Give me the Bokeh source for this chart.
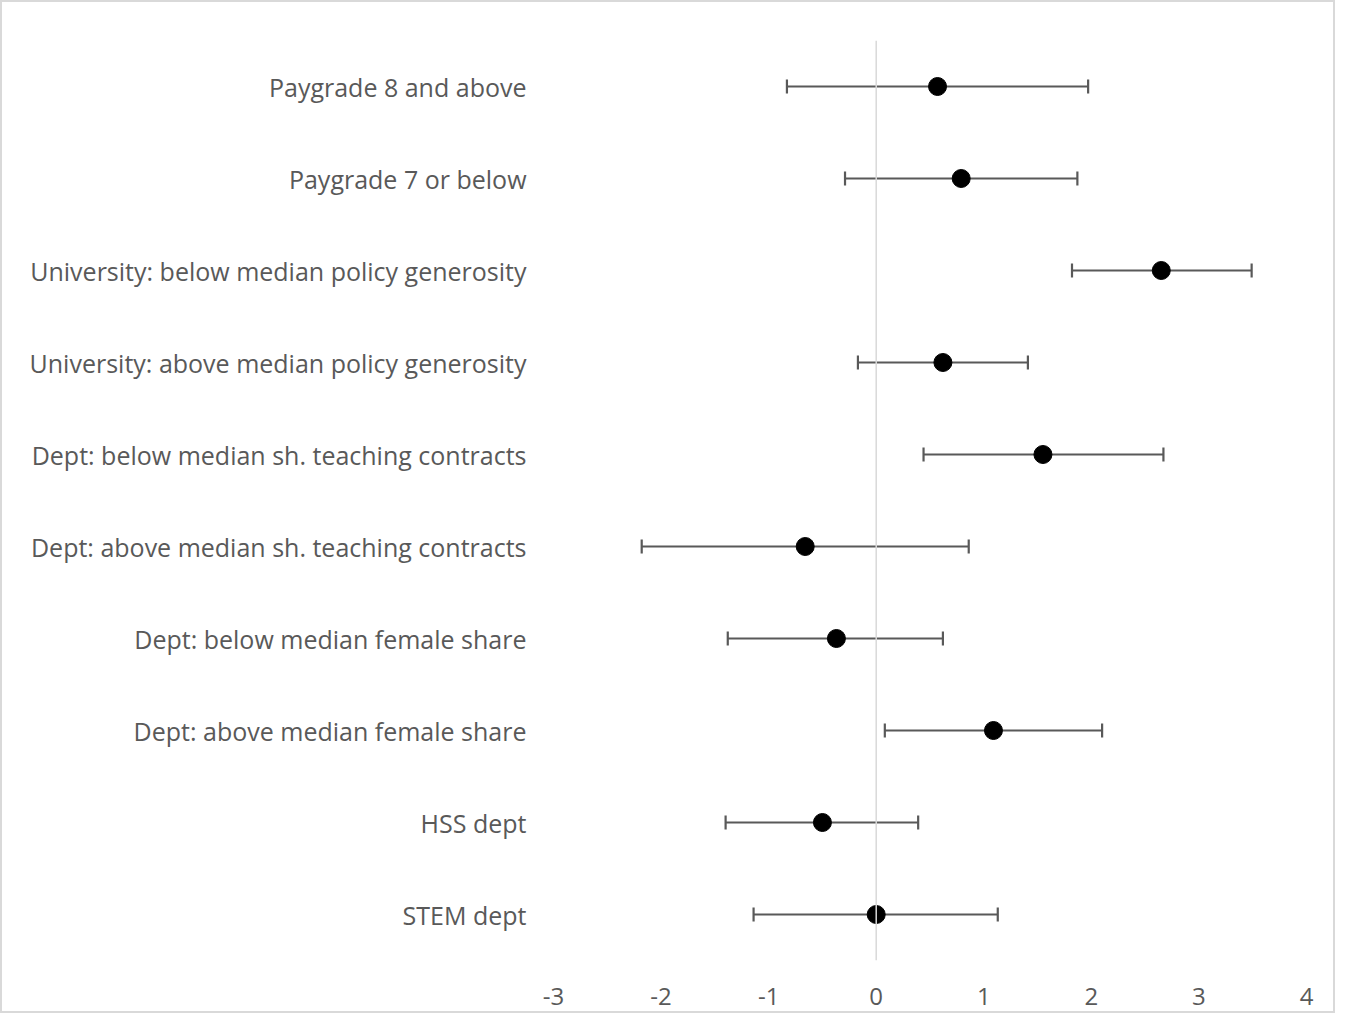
import numpy as np
from bokeh.plotting import figure
from bokeh.models import FactorRange, Span, FixedTicker
from bokeh.embed import file_html
from bokeh.resources import INLINE

categories = [
    "Paygrade 8 and above",
    "Paygrade 7 or below",
    "University: below median policy generosity",
    "University: above median policy generosity",
    "Dept: below median sh. teaching contracts",
    "Dept: above median sh. teaching contracts",
    "Dept: below median female share",
    "Dept: above median female share",
    "HSS dept",
    "STEM dept",
]
estimates = [0.57, 0.79, 2.65, 0.62, 1.55, -0.66, -0.37, 1.09, -0.50, 0.00]
lower = [-0.83, -0.29, 1.82, -0.17, 0.44, -2.18, -1.38, 0.08, -1.40, -1.14]
upper = [1.97, 1.87, 3.49, 1.41, 2.67, 0.86, 0.62, 2.10, 0.39, 1.13]
x_ticks = [-3, -2, -1, 0, 1, 2, 3, 4]
x_tick_labels = ["-3", "-2", "-1", "0", "1", "2", "3", "4"]

FONT = "Open Sans"
TXT = "#595959"

p = figure(
    width=1335, height=1013,
    y_range=FactorRange(factors=categories[::-1]),
    x_range=(-3, 4),
    output_backend="svg", toolbar_location=None,
    min_border_left=553, min_border_right=29, min_border_top=40, min_border_bottom=53,
)
p.styles = {"outline": "2px solid #d9d9d9", "outline-offset": "-2px"}
p.border_fill_alpha = 0
p.outline_line_color = None
p.grid.grid_line_color = None
p.background_fill_color = "white"

# zero line
p.add_layout(Span(location=0, dimension="height", line_color="#d9d9d9", line_width=1.5))

# error bars
p.segment(x0=lower, y0=categories, x1=upper, y1=categories, line_color=TXT, line_width=2.2)
p.scatter(x=lower, y=categories, marker="dash", angle=np.pi / 2, size=14, line_color=TXT, line_width=2.2)
p.scatter(x=upper, y=categories, marker="dash", angle=np.pi / 2, size=14, line_color=TXT, line_width=2.2)
p.scatter(x=estimates, y=categories, marker="circle", size=18, fill_color="black", line_color="black")

# axes
xa = p.xaxis[0]
xa.ticker = FixedTicker(ticks=x_ticks)
xa.major_label_overrides = dict(zip(x_ticks, x_tick_labels))
xa.axis_line_color = None
xa.major_tick_line_color = None
xa.minor_tick_line_color = None
xa.major_label_text_font = FONT
xa.major_label_text_font_size = "24px"
xa.major_label_text_color = TXT
xa.major_label_standoff = 21

ya = p.yaxis[0]
ya.axis_line_color = None
ya.major_tick_line_color = None
ya.minor_tick_line_color = None
ya.major_label_text_font = FONT
ya.major_label_text_font_size = "25px"
ya.major_label_text_color = TXT
ya.major_label_standoff = 21

open("out.html", "w").write(file_html(p, INLINE))
